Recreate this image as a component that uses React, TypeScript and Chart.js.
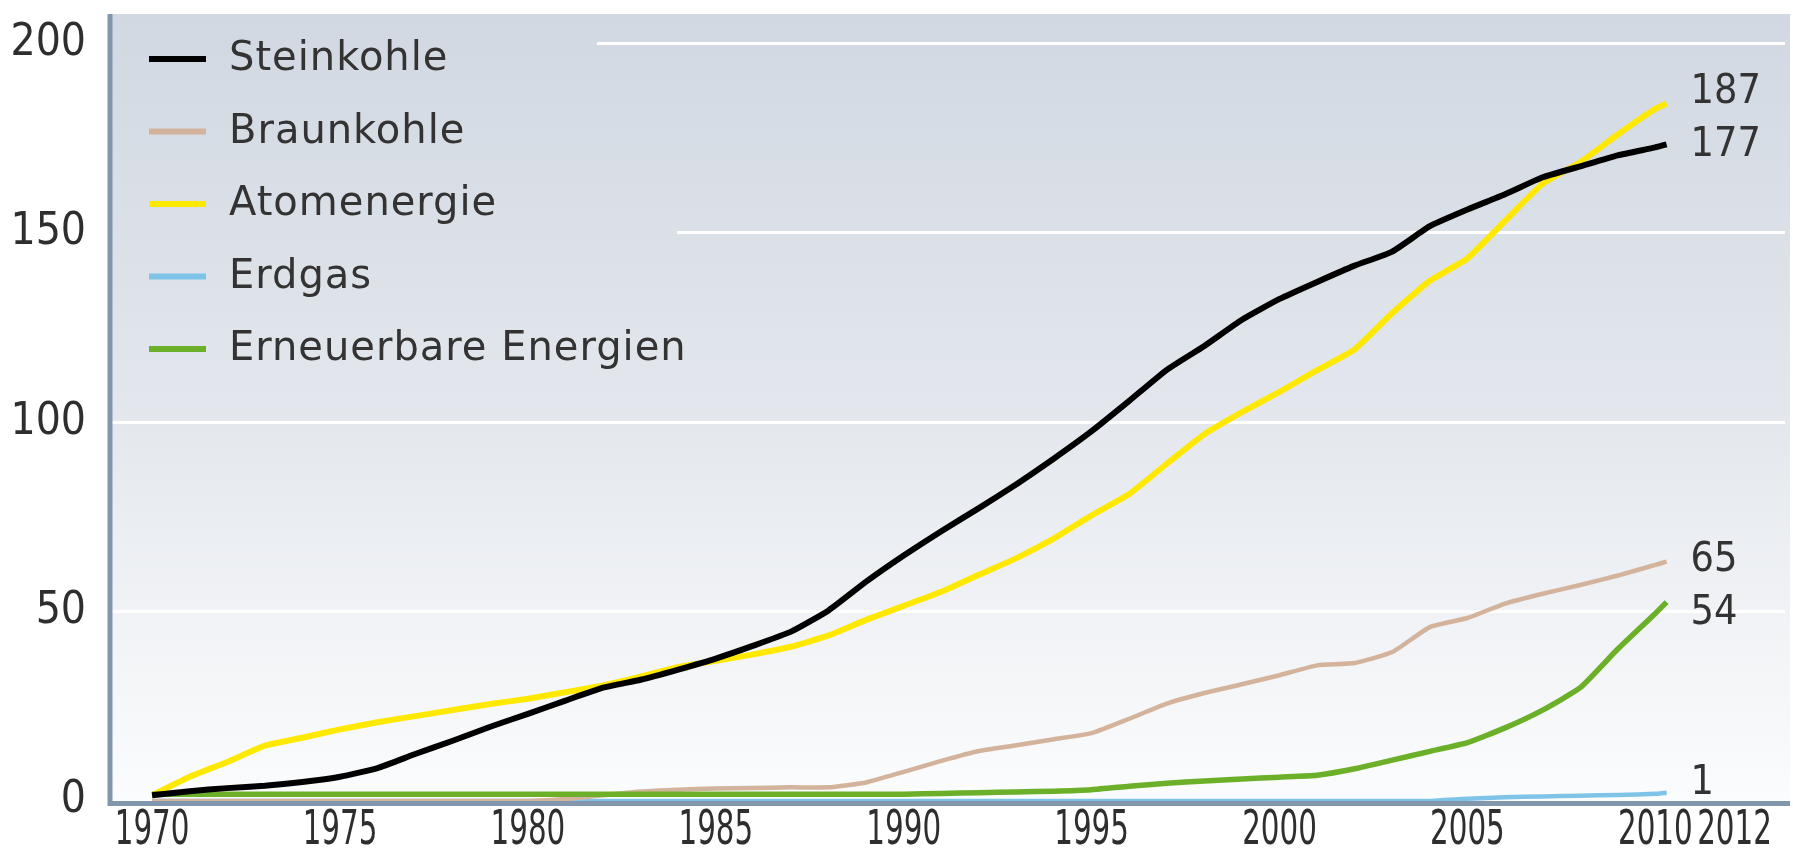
import React, { useEffect, useRef } from "react";
import { Chart, registerables } from "chart.js";

Chart.register(...registerables);

// x positions (years as placed on the picture's axis; last point is the line end)
const years = [
  1970, 1971, 1972, 1973, 1974, 1975, 1976, 1977, 1978, 1979,
  1980, 1981, 1982, 1983, 1984, 1985, 1986, 1987, 1988, 1989,
  1990, 1991, 1992, 1993, 1994, 1995, 1996, 1997, 1998, 1999,
  2000, 2001, 2002, 2003, 2004, 2005, 2006, 2007, 2008, 2009,
  2010, 2010.3,
];

const steinkohle = [
  1.5, 2.6, 3.4, 4.0, 5.0, 6.4, 8.7, 12.4, 15.9, 19.6,
  23.0, 26.5, 29.9, 32.0, 34.7, 37.6, 41.0, 44.7, 50.3, 57.9,
  64.8, 71.2, 77.3, 83.6, 90.4, 97.6, 105.6, 113.8, 120.1, 127.0,
  132.5, 137.0, 141.3, 145.0, 151.7, 156.1, 160.1, 164.6, 167.5, 170.4,
  172.5, 173.3,
];

const braunkohle = [
  0, 0, 0, 0, 0, 0, 0, 0, 0, 0,
  0, 0.5, 1.5, 2.5, 3.0, 3.3, 3.4, 3.6, 3.6, 4.9,
  7.7, 10.6, 13.2, 14.7, 16.3, 17.9, 21.7, 25.7, 28.5, 30.8,
  33.2, 35.8, 36.4, 39.3, 45.9, 48.3, 52.1, 54.7, 57.0, 59.5,
  62.3, 63.2,
];

const atomenergie = [
  1.5, 6.4, 10.3, 14.6, 16.7, 18.9, 20.8, 22.4, 24.0, 25.6,
  27.0, 28.7, 30.5, 32.8, 35.4, 37.0, 38.7, 40.7, 43.7, 47.8,
  51.5, 55.2, 59.7, 64.1, 69.3, 75.4, 81.0, 89.0, 96.8, 102.6,
  108.0, 113.7, 119.2, 128.8, 137.3, 143.2, 153.1, 162.9, 168.6, 175.9,
  182.7, 184.1,
];

const erdgas = [
  0, 0, 0, 0, 0, 0, 0, 0, 0, 0,
  0, 0, 0, 0, 0, 0, 0, 0, 0, 0,
  0, 0, 0, 0, 0, 0, 0, 0, 0, 0,
  0, 0, 0, 0, 0, 0.6, 1.0, 1.2, 1.4, 1.6,
  1.9, 2.2,
];

const erneuerbare = [
  1.8, 1.8, 1.8, 1.8, 1.8, 1.8, 1.8, 1.8, 1.8, 1.8,
  1.8, 1.8, 1.8, 1.8, 1.8, 1.8, 1.8, 1.8, 1.8, 1.8,
  1.8, 2.0, 2.2, 2.4, 2.6, 3.0, 3.9, 4.7, 5.3, 5.8,
  6.3, 6.8, 8.5, 10.8, 13.1, 15.4, 19.3, 24.0, 29.9, 40.1,
  49.5, 52.5,
];

const seriesLabels = ["Steinkohle", "Braunkohle", "Atomenergie", "Erdgas", "Erneuerbare Energien"];
const endLabels = ["177", "65", "187", "1", "54"];
const xTickYears = [1970, 1975, 1980, 1985, 1990, 1995, 2000, 2005, 2010, 2012];
const yTickValues = [0, 50, 100, 150, 200];

export default function App() {
  const ref = useRef<HTMLCanvasElement>(null);

  useEffect(() => {
    const canvas = ref.current;
    if (!canvas) return;

    const styles = [
      { color: "#000000", width: 6, order: 0, nudge: 1 },
      { color: "#d3b39b", width: 4.5, order: 2, nudge: -1 },
      { color: "#ffe900", width: 6, order: 3, nudge: -11 },
      { color: "#7fc4e8", width: 4.5, order: 4, nudge: -9 },
      { color: "#6cb02a", width: 5.5, order: 1, nudge: 11 },
    ];
    const values = [steinkohle, braunkohle, atomenergie, erdgas, erneuerbare];

    const datasets = values.map((vals, i) => ({
      label: seriesLabels[i],
      data: years.map((yr, j) => ({ x: yr, y: vals[j] })),
      borderColor: styles[i].color,
      backgroundColor: styles[i].color,
      borderWidth: styles[i].width,
      order: styles[i].order,
      pointRadius: 0,
      tension: 0.15,
      fill: false,
      borderCapStyle: "butt" as const,
      borderJoinStyle: "round" as const,
    }));

    const bgGradient = (ctx: CanvasRenderingContext2D, top: number, bottom: number) => {
      const g = ctx.createLinearGradient(0, top, 0, bottom);
      g.addColorStop(0, "#d1d8e1");
      g.addColorStop(0.5, "#e3e7ed");
      g.addColorStop(0.78, "#f1f3f6");
      g.addColorStop(1, "#fbfcfd");
      return g;
    };

    const decor = {
      id: "decor",
      beforeDraw(chart: any) {
        const { ctx, chartArea: a } = chart;
        ctx.save();
        ctx.fillStyle = "#ffffff";
        ctx.fillRect(0, 0, chart.width, chart.height);
        ctx.fillStyle = bgGradient(ctx, a.top, a.bottom);
        ctx.fillRect(a.left, a.top, 1790 - a.left, a.bottom - a.top);
        ctx.restore();
      },
      beforeDatasetsDraw(chart: any) {
        const { ctx, chartArea: a } = chart;
        ctx.save();
        ctx.fillStyle = bgGradient(ctx, a.top, a.bottom);
        ctx.fillRect(a.left + 2, a.top, 595 - a.left, 200 - a.top);
        ctx.fillRect(a.left + 2, 200, 675 - a.left, 180);
        ctx.restore();
      },
      afterDatasetsDraw(chart: any) {
        const { ctx, chartArea: a } = chart;
        const xs = chart.scales.x;
        const ys = chart.scales.y;
        ctx.save();
        // axes
        ctx.strokeStyle = "#8297ab";
        ctx.lineWidth = 5;
        ctx.beginPath();
        ctx.moveTo(a.left, a.top);
        ctx.lineTo(a.left, a.bottom + 2.5);
        ctx.lineTo(1790, a.bottom + 2.5);
        ctx.stroke();

        // x tick labels (condensed)
        ctx.font = "48px 'DejaVu Sans Condensed', 'DejaVu Sans'";
        ctx.fillStyle = "#2e2e2e";
        ctx.textAlign = "center";
        ctx.textBaseline = "middle";
        xs.ticks.forEach((t: any) => {
          const px = xs.getPixelForValue(t.value) + (t.value === 2012 ? 4 : 0);
          ctx.save();
          ctx.translate(px, a.bottom + 31);
          ctx.scale(0.68, 1);
          ctx.fillText(String(t.value), 0, 0);
          ctx.restore();
        });

        // legend
        ctx.font = "40px 'DejaVu Sans'";
        (ctx as any).letterSpacing = "1px";
        ctx.textBaseline = "middle";
        ctx.textAlign = "left";
        seriesLabels.forEach((lab, i) => {
          const y = 59 + i * 72.5;
          ctx.strokeStyle = styles[i].color;
          ctx.lineWidth = 6;
          ctx.beginPath();
          ctx.moveTo(149, y);
          ctx.lineTo(206, y);
          ctx.stroke();
          ctx.fillStyle = "#333333";
          ctx.fillText(lab, 229, y + 1);
        });
        (ctx as any).letterSpacing = "0px";

        // end labels
        ctx.font = "41px 'DejaVu Sans Condensed', 'DejaVu Sans'";
        ctx.fillStyle = "#333333";
        values.forEach((vals, i) => {
          const last = vals.length - 1;
          const px = xs.getPixelForValue(years[last]) + 24;
          const py = ys.getPixelForValue(vals[last]) + styles[i].nudge;
          ctx.fillText(endLabels[i], px, py);
        });
        ctx.restore();
      },
    };

    const chart = new Chart(canvas, {
      type: "line",
      data: { datasets },
      options: {
        animation: false,
        responsive: false,
        devicePixelRatio: 1,
        layout: { padding: { top: 14, right: 8, left: 0, bottom: 0 } },
        plugins: { legend: { display: false }, tooltip: { enabled: false } },
        scales: {
          x: {
            type: "linear",
            min: 1968.88,
            max: 2013.45,
            afterBuildTicks: (scale: any) => {
              scale.ticks = xTickYears.map((v) => ({ value: v }));
            },
            afterFit: (scale: any) => {
              scale.height = 51;
              scale.paddingLeft = 0;
              scale.paddingRight = 0;
            },
            grid: { display: false, drawTicks: false },
            border: { display: false },
            ticks: { display: false, autoSkip: false, maxRotation: 0 },
          },
          y: {
            type: "linear",
            min: 0,
            max: 207.7,
            afterBuildTicks: (scale: any) => {
              scale.ticks = yTickValues.map((v) => ({ value: v }));
            },
            afterFit: (scale: any) => {
              scale.width = 110;
              scale.paddingTop = 0;
              scale.paddingBottom = 0;
            },
            grid: {
              drawTicks: false,
              lineWidth: 3,
              color: (c: any) => (c.tick && c.tick.value === 0 ? "rgba(0,0,0,0)" : "#ffffff"),
            },
            border: { display: false },
            ticks: {
              padding: 24,
              color: "#2e2e2e",
              font: { family: "'DejaVu Sans Condensed', 'DejaVu Sans', sans-serif", size: 44 },
              callback: (v: any) => String(v),
            },
          },
        },
      },
      plugins: [decor],
    });

    return () => chart.destroy();
  }, []);

  return (
    <div style={{ position: "absolute", left: 0, top: 0, width: 1793, height: 852, background: "#ffffff" }}>
      <canvas ref={ref} width={1793} height={852} style={{ display: "block", width: 1793, height: 852 }} />
    </div>
  );
}
